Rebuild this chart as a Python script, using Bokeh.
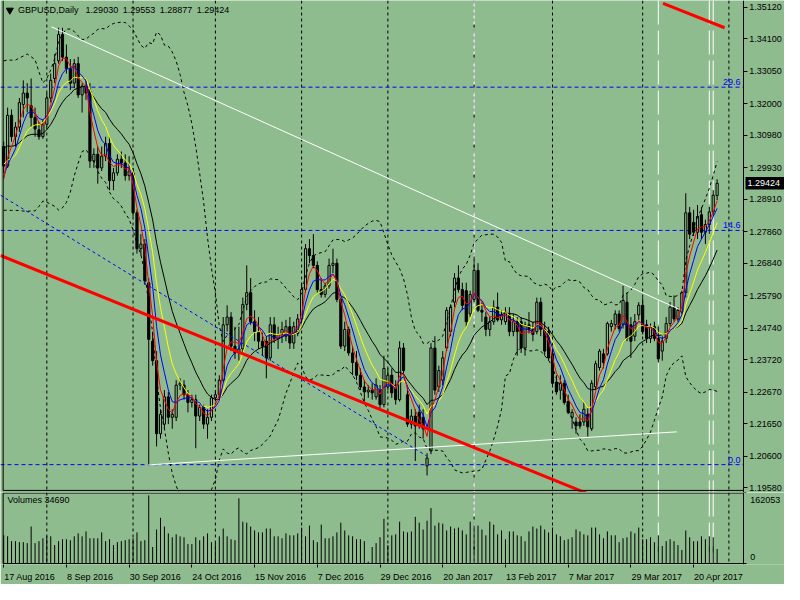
import numpy as np
from bokeh.plotting import figure
from bokeh.models import Range1d, FixedTicker, PrintfTickFormatter, Span, ColumnDataSource
from bokeh.layouts import column
from bokeh.embed import file_html
from bokeh.resources import INLINE
from bokeh.core.properties import value

BG = "#8FBC8F"
FONT = "Liberation Sans"

# ---------------- data ----------------
opens = [
 1.3061,1.2998,1.3162,1.3093,1.3124,1.3197,1.3234,1.3193,1.3155,1.3115,
 1.3093,1.3133,1.3218,1.3281,1.3338,1.3423,1.3350,1.3313,1.3266,1.3329,
 1.3228,1.3256,1.3240,1.3014,1.3036,1.2992,1.3030,1.3071,1.2951,1.2976,
 1.3020,1.3008,1.2967,1.2976,1.2847,1.2731,1.2746,1.2621,1.2432,1.2369,
 1.2133,1.2164,1.2252,1.2186,1.2186,1.2290,1.2290,1.2259,1.2234,1.2243,
 1.2190,1.2218,1.2164,1.2186,1.2249,1.2259,1.2306,1.2485,1.2510,1.2416,
 1.2394,1.2407,1.2551,1.2589,1.2495,1.2463,1.2432,1.2432,1.2378,1.2485,
 1.2441,1.2454,1.2448,1.2479,1.2426,1.2457,1.2504,1.2599,1.2731,1.2709,
 1.2677,1.2599,1.2583,1.2611,1.2677,1.2684,1.2567,1.2416,1.2470,1.2394,
 1.2363,1.2322,1.2284,1.2268,1.2274,1.2252,1.2274,1.2227,1.2284,1.2322,
 1.2290,1.2243,1.2410,1.2259,1.2164,1.2190,1.2202,1.2186,1.2029,1.2077,
 1.2410,1.2284,1.2306,1.2410,1.2463,1.2558,1.2636,1.2599,1.2595,1.2520,
 1.2567,1.2661,1.2532,1.2510,1.2470,1.2495,1.2542,1.2501,1.2495,1.2517,
 1.2463,1.2495,1.2495,1.2410,1.2485,1.2470,1.2463,1.2558,1.2470,1.2463,
 1.2391,1.2300,1.2274,1.2296,1.2237,1.2186,1.2171,1.2171,1.2171,1.2196,
 1.2149,1.2284,1.2347,1.2391,1.2391,1.2479,1.2485,1.2520,1.2485,1.2558,
 1.2485,1.2448,1.2517,1.2548,1.2485,1.2441,1.2479,1.2441,1.2400,1.2441,
 1.2489,1.2542,1.2504,1.2526,1.2589,1.2847,1.2816,1.2784,1.2841,1.2784,
 1.2809,1.2850,1.29030]
highs = [
 1.3077,1.3187,1.3181,1.3140,1.3218,1.3275,1.3266,1.3281,1.3187,1.3140,
 1.3149,1.3234,1.3297,1.3360,1.3445,1.3445,1.3391,1.3344,1.3344,1.3351,
 1.3266,1.3281,1.3266,1.3055,1.3061,1.3061,1.3093,1.3093,1.2992,1.3036,
 1.3045,1.3036,1.3030,1.2992,1.2857,1.2778,1.2762,1.2636,1.2463,1.2400,
 1.2212,1.2274,1.2268,1.2212,1.2306,1.2312,1.2306,1.2274,1.2259,1.2259,
 1.2227,1.2227,1.2212,1.2259,1.2274,1.2322,1.2510,1.2548,1.2526,1.2479,
 1.2479,1.2573,1.2677,1.2636,1.2532,1.2510,1.2463,1.2448,1.2510,1.2510,
 1.2479,1.2495,1.2501,1.2510,1.2495,1.2520,1.2621,1.2746,1.2762,1.2778,
 1.2690,1.2636,1.2621,1.2699,1.2731,1.2699,1.2573,1.2495,1.2479,1.2416,
 1.2400,1.2344,1.2306,1.2290,1.2296,1.2312,1.2290,1.2385,1.2344,1.2344,
 1.2306,1.2432,1.2426,1.2290,1.2212,1.2212,1.2227,1.2212,1.2070,1.2426,
 1.2448,1.2353,1.2400,1.2542,1.2551,1.2652,1.2677,1.2621,1.2621,1.2595,
 1.2706,1.2684,1.2558,1.2526,1.2510,1.2564,1.2589,1.2532,1.2542,1.2542,
 1.2520,1.2510,1.2510,1.2495,1.2526,1.2495,1.2573,1.2573,1.2495,1.2479,
 1.2400,1.2322,1.2322,1.2306,1.2259,1.2212,1.2186,1.2196,1.2234,1.2218,
 1.2306,1.2369,1.2407,1.2407,1.2495,1.2501,1.2532,1.2532,1.2611,1.2589,
 1.2510,1.2520,1.2558,1.2573,1.2501,1.2489,1.2495,1.2479,1.2448,1.2510,
 1.2558,1.2580,1.2542,1.2595,1.2910,1.2866,1.2857,1.2872,1.2866,1.2825,
 1.2866,1.2920,1.29553]
lows = [
 1.2976,1.2992,1.3077,1.3061,1.3108,1.3155,1.3171,1.3124,1.3093,1.3083,
 1.3086,1.3124,1.3203,1.3266,1.3329,1.3338,1.3297,1.3244,1.3250,1.3218,
 1.3171,1.3212,1.2992,1.2992,1.2941,1.2982,1.3014,1.2920,1.2920,1.2967,
 1.2992,1.2951,1.2951,1.2835,1.2715,1.2709,1.2614,1.2029,1.2353,1.2092,
 1.2117,1.2149,1.2164,1.2149,1.2174,1.2274,1.2243,1.2202,1.2218,1.2086,
 1.2174,1.2149,1.2117,1.2174,1.2237,1.2243,1.2300,1.2463,1.2400,1.2375,
 1.2369,1.2394,1.2532,1.2485,1.2432,1.2407,1.2385,1.2312,1.2369,1.2426,
 1.2407,1.2426,1.2432,1.2407,1.2407,1.2448,1.2489,1.2589,1.2684,1.2668,
 1.2589,1.2573,1.2573,1.2602,1.2652,1.2558,1.2407,1.2400,1.2385,1.2322,
 1.2306,1.2274,1.2237,1.2249,1.2243,1.2243,1.2212,1.2218,1.2274,1.2249,
 1.2227,1.2237,1.2322,1.2155,1.2149,1.2045,1.2149,1.2117,1.1998,1.2067,
 1.2259,1.2268,1.2290,1.2400,1.2448,1.2542,1.2589,1.2532,1.2479,1.2510,
 1.2558,1.2526,1.2495,1.2448,1.2448,1.2485,1.2495,1.2485,1.2485,1.2448,
 1.2448,1.2385,1.2394,1.2385,1.2457,1.2432,1.2454,1.2448,1.2385,1.2369,
 1.2290,1.2259,1.2243,1.2227,1.2196,1.2149,1.2133,1.2149,1.2158,1.2124,
 1.2142,1.2274,1.2337,1.2344,1.2385,1.2463,1.2470,1.2463,1.2473,1.2432,
 1.2378,1.2432,1.2501,1.2454,1.2426,1.2426,1.2432,1.2363,1.2369,1.2426,
 1.2479,1.2495,1.2495,1.2520,1.2573,1.2762,1.2772,1.2762,1.2762,1.2746,
 1.2778,1.2835,1.28877]
closes = [
 1.2998,1.3162,1.3093,1.3124,1.3203,1.3234,1.3218,1.3155,1.3118,1.3093,
 1.3133,1.3218,1.3275,1.3329,1.3423,1.3350,1.3313,1.3266,1.3329,1.3228,
 1.3256,1.3234,1.3014,1.3036,1.2992,1.3030,1.3071,1.2951,1.2976,1.3020,
 1.3008,1.2967,1.2982,1.2847,1.2731,1.2746,1.2627,1.2438,1.2369,1.2133,
 1.2196,1.2252,1.2186,1.2196,1.2290,1.2296,1.2259,1.2234,1.2243,1.2190,
 1.2218,1.2164,1.2186,1.2249,1.2259,1.2306,1.2485,1.2510,1.2416,1.2394,
 1.2407,1.2551,1.2589,1.2495,1.2463,1.2432,1.2416,1.2378,1.2485,1.2441,
 1.2454,1.2470,1.2479,1.2426,1.2479,1.2504,1.2599,1.2731,1.2709,1.2677,
 1.2599,1.2583,1.2611,1.2677,1.2684,1.2567,1.2416,1.2470,1.2394,1.2363,
 1.2322,1.2284,1.2268,1.2274,1.2265,1.2290,1.2227,1.2344,1.2322,1.2265,
 1.2243,1.2410,1.2337,1.2164,1.2190,1.2158,1.2164,1.2149,1.2054,1.2410,
 1.2274,1.2337,1.2378,1.2532,1.2542,1.2636,1.2599,1.2548,1.2495,1.2583,
 1.2661,1.2532,1.2526,1.2470,1.2495,1.2542,1.2501,1.2517,1.2526,1.2463,
 1.2495,1.2463,1.2410,1.2485,1.2470,1.2454,1.2558,1.2470,1.2400,1.2378,
 1.2296,1.2268,1.2296,1.2234,1.2202,1.2202,1.2158,1.2158,1.2212,1.2155,
 1.2296,1.2359,1.2400,1.2363,1.2489,1.2489,1.2520,1.2473,1.2564,1.2441,
 1.2432,1.2495,1.2548,1.2463,1.2441,1.2479,1.2441,1.2375,1.2432,1.2489,
 1.2542,1.2504,1.2532,1.2589,1.2847,1.2778,1.2784,1.2835,1.2784,1.2809,
 1.2850,1.2904,1.29424]
volumes = [
 67077,64764,53199,53199,50886,50886,48573,87894,48573,53199,
 60138,64764,64764,43947,53199,57825,57825,55512,64764,71703,
 64764,76329,60138,60138,60138,74016,53199,57825,43947,50886,
 53199,55512,57825,60138,74016,53199,55512,162053,39321,80955,
 108711,87894,71703,62451,69390,64764,62451,46260,46260,62451,
 55512,64764,71703,50886,48573,64764,83268,64764,57825,55512,
 154971,99459,97146,87894,78642,74016,74016,83268,83268,64764,
 64764,60138,71703,67077,67077,71703,85581,64764,90207,55512,
 50886,92520,60138,60138,64764,74016,97146,78642,67077,64764,
 57825,57825,53199,4626,39321,48573,62451,106398,43947,67077,
 69390,99459,76329,74016,76329,111024,97146,80955,101772,131841,
 90207,97146,94833,78642,87894,83268,85581,78642,69390,99459,
 90207,90207,80955,67077,99459,92520,69390,78642,57825,76329,
 76329,67077,64764,53199,76329,87894,83268,90207,80955,74016,
 85581,69390,64764,55512,57825,62451,80955,76329,69390,67077,
 85581,85581,69390,60138,76329,67077,67077,50886,60138,62451,
 76329,71703,85581,57825,57825,62451,50886,67077,41634,53199,
 57825,53199,43947,32382,78642,62451,53199,53199,64764,57825,
 64764,62451,34690]
# estimated closes of the 21 sessions before the first bar (indicator warm-up only, not drawn)
prior_closes = [1.3110,1.3200,1.3125,1.3110,1.3120,1.3140,1.3190,1.3160,1.3230,1.3210,
                1.3340,1.3320,1.3115,1.3055,1.3045,1.3010,1.3000,1.2985,1.2935,1.2880,1.2960]

price_ticks = [1.35120,1.34100,1.33050,1.32000,1.30980,1.29930,1.28910,1.27860,
               1.26840,1.25790,1.24740,1.23720,1.22670,1.21650,1.20600,1.19580]
date_labels = ["17 Aug 2016","8 Sep 2016","30 Sep 2016","24 Oct 2016","15 Nov 2016",
               "7 Dec 2016","29 Dec 2016","20 Jan 2017","13 Feb 2017","7 Mar 2017",
               "29 Mar 2017","20 Apr 2017"]
date_bars = [0,16,32,48,64,80,96,112,128,144,160,176]
month_start_bars = [11,33,54,76,98,120,140,163,185]
white_vline_bars = [120,167,180,181]
fib_levels = [1.3253,1.2790,1.2033]
fib_texts = ["29.6","14.6","0.0"]
trend_white1_x = [12.2,172.2];  trend_white1_y = [1.3448,1.2536]
trend_white2_x = [36.7,171.7];  trend_white2_y = [1.2032,1.2139]
trend_red1_x = [-0.83,149.2];   trend_red1_y = [1.2709,1.1938]
trend_red2_x = [168.2,183.9];   trend_red2_y = [1.3524,1.3445]
trend_blue_x = [-0.83,107.9];   trend_blue_y = [1.2904,1.2061]
symbol = "GBPUSD,Daily"

# ---------------- indicators ----------------
n = len(closes)
bars = list(range(n))
full = np.array(prior_closes + closes, dtype=float)
k = len(prior_closes)

def lwma(arr, period):
    w = np.arange(1, period + 1, dtype=float)
    out = np.full(len(arr), np.nan)
    for i in range(period - 1, len(arr)):
        out[i] = np.dot(arr[i - period + 1:i + 1], w) / w.sum()
    return out

def bands(arr, period, dev):
    up = np.full(len(arr), np.nan); lo = np.full(len(arr), np.nan)
    for i in range(period - 1, len(arr)):
        seg = arr[i - period + 1:i + 1]
        m = seg.mean(); s = seg.std()
        up[i] = m + dev * s; lo[i] = m - dev * s
    return up, lo

ma_red = lwma(full, 5)[k:]
ma_blue = lwma(full, 8)[k:]
ma_yellow = lwma(full, 13)[k:]
ma_black = lwma(full, 21)[k:]
bb_up, bb_lo = bands(full, 20, 2.0)
bb_up = bb_up[k:]; bb_lo = bb_lo[k:]

# ---------------- geometry (screen layout) ----------------
W = 784
PXB = 3.92                     # px per bar
X0 = -3.2 / PXB                # bar 0 sits 3.2 px from the left edge
X1 = X0 + W / PXB
XB_RIGHT = X0 + 742.8 / PXB    # right border of the chart panels (price scale starts here)
XB_LEFT = X0 + 2.65 / PXB
x_rng = Range1d(X0, X1)

H_MAIN = 492
PPP = 3094.1                   # px per price unit
P_TOP = 1.35331
P_BOT = P_TOP - H_MAIN / PPP
P_BORDER = P_TOP - 489.9 / PPP

H_VOL = 92
VPP = 2376.5                   # volume units per px
V_BASE_PX = 71.05              # baseline, px from the top of the volume figure
V_TOP = V_BASE_PX * VPP
V_BOT = -(72 - V_BASE_PX) * VPP
V_BORDER = V_TOP - 0.5 * VPP

def xb(px):
    return X0 + px / PXB

def fig(h, yr, bb, xloc):
    f = figure(width=W, height=h, x_range=x_rng, y_range=yr,
               x_axis_location=xloc, y_axis_location="right",
               output_backend="svg", toolbar_location=None,
               min_border_left=0, min_border_right=0, min_border_top=0, min_border_bottom=bb,
               background_fill_color=BG, border_fill_color=BG, outline_line_color=None)
    f.grid.visible = False
    return f

p = fig(H_MAIN, Range1d(P_BOT, P_TOP), 0, None)
v = fig(H_VOL, Range1d(V_BOT, V_TOP), 20, "below")

for f in (p, v):
    for b in month_start_bars:
        f.add_layout(Span(location=b, dimension="height", line_color="black",
                          line_dash="3 3", line_width=1, level="underlay"))
    for b in white_vline_bars:
        f.add_layout(Span(location=b, dimension="height", line_color="white",
                          line_dash="24 6", line_width=1, level="underlay"))

# Fibonacci levels (up to the panel border)
p.segment(x0=[X0] * 3, y0=fib_levels, x1=[XB_RIGHT] * 3, y1=fib_levels,
          line_color="#0000FF", line_dash="4 3", line_width=1)

# candles
fills = ["black" if c < o else BG for o, c in zip(opens, closes)]
src = ColumnDataSource(dict(x=bars, o=opens, h=highs, l=lows, c=closes, f=fills))
p.segment(x0="x", y0="l", x1="x", y1="h", source=src, line_color="black", line_width=1)
p.vbar(x="x", width=0.55, top="o", bottom="c", source=src, fill_color="f",
       line_color="black", line_width=1)

# indicators
p.line(bars, bb_up, line_color="black", line_dash="3 3", line_width=1)
p.line(bars, bb_lo, line_color="black", line_dash="3 3", line_width=1)
p.line(bars, ma_black, line_color="black", line_width=1)
p.line(bars, ma_yellow, line_color="#FFFF00", line_width=1)
p.line(bars, ma_blue, line_color="#0000FF", line_width=1)
p.line(bars, ma_red, line_color="#FF0000", line_width=1)

# drawn objects
p.line(trend_white1_x, trend_white1_y, line_color="white", line_width=1)
p.line(trend_white2_x, trend_white2_y, line_color="white", line_width=1)
p.line(trend_blue_x, trend_blue_y, line_color="#0000FF", line_dash="3 3", line_width=1)
p.line(trend_red1_x, trend_red1_y, line_color="#FF0000", line_width=3)
p.line(trend_red2_x, trend_red2_y, line_color="#FF0000", line_width=3)

# panel borders (left and bottom; the right one is the price scale line)
p.segment(x0=[XB_LEFT, XB_LEFT], y0=[P_BORDER, P_BORDER], x1=[XB_LEFT, XB_RIGHT],
          y1=[P_TOP, P_BORDER], line_color="black", line_width=1)
v.segment(x0=[XB_LEFT, XB_LEFT, XB_LEFT], y0=[0, V_BORDER, 0],
          x1=[XB_LEFT, XB_RIGHT, XB_RIGHT + 0.5], y1=[V_BORDER, V_BORDER, 0],
          line_color="black", line_width=1)

# texts
p.text(x=[xb(740)] * 3, y=[lv + 2.0 / PPP for lv in fib_levels], text=fib_texts,
       text_align="right", text_baseline="bottom", text_color="#0000FF",
       text_font=value(FONT), text_font_size=value("9px"))
title = f"{symbol}\u2002 {opens[-1]:.5f}\u2002{highs[-1]:.5f}\u2002{lows[-1]:.5f}\u2002{closes[-1]:.5f}"
p.text(x=[xb(17.6)], y=[P_TOP - 9.7 / PPP], text=[title], text_align="left",
       text_baseline="middle", text_color="black",
       text_font=value(FONT), text_font_size=value("9px"))
p.scatter(x=[xb(9.3)], y=[P_TOP - 9.7 / PPP], marker="inverted_triangle", size=7,
          fill_color="black", line_color="black")
# current price box on the price scale
half = 6.3 / PPP
p.quad(left=[xb(745)], right=[X1], bottom=[closes[-1] - half], top=[closes[-1] + half],
       fill_color="black", line_color=None)
p.text(x=[xb(747)], y=[closes[-1]], text=[f"{closes[-1]:.5f}"], text_align="left",
       text_baseline="middle", text_color="white",
       text_font=value(FONT), text_font_size=value("9px"))

# price axis
ya = p.yaxis[0]
ya.fixed_location = XB_RIGHT
ya.ticker = FixedTicker(ticks=price_ticks)
ya.formatter = PrintfTickFormatter(format="%.5f")
ya.major_tick_out = 4; ya.major_tick_in = 0
ya.minor_tick_out = 0; ya.minor_tick_in = 0
ya.major_label_standoff = 2
ya.axis_line_color = "black"
ya.major_label_text_font = FONT
ya.major_label_text_font_size = "9px"
ya.major_label_text_color = "black"

# volume panel
v.segment(x0=bars, y0=[0] * n, x1=bars, y1=volumes, line_color="black", line_width=1)
v.text(x=[xb(6.9)], y=[(V_BASE_PX - 7.6) * VPP], text=[f"Volumes {volumes[-1]}"],
       text_align="left", text_baseline="middle", text_color="black",
       text_font=value(FONT), text_font_size=value("9px"))
vmax = max(volumes)
vpos0 = round((V_BASE_PX - 64.7) * VPP, 1)
vpos1 = round((V_BASE_PX - 7.6) * VPP, 1)
vy = v.yaxis[0]
vy.fixed_location = XB_RIGHT
vy.ticker = FixedTicker(ticks=[vpos0, vpos1], minor_ticks=[0, round(V_BORDER, 1)])
vy.major_label_overrides = {vpos0: "0", vpos1: str(vmax)}
vy.major_tick_out = 0; vy.major_tick_in = 0
vy.minor_tick_out = 3; vy.minor_tick_in = 0
vy.major_label_standoff = 4
vy.axis_line_color = "black"
vy.major_label_text_font = FONT
vy.major_label_text_font_size = "9px"
vy.major_label_text_color = "black"

# date axis (labels left-aligned at their bar)
CW = {" ": 0.278, ".": 0.278}
for ch in "0123456789":
    CW[ch] = 0.556
CW.update({"A": .667, "u": .556, "g": .556, "S": .667, "e": .556, "p": .556, "O": .778,
           "c": .5, "t": .278, "N": .722, "o": .556, "v": .5, "D": .722, "J": .5,
           "a": .556, "n": .556, "F": .611, "b": .556, "M": .833, "r": .333, "l": .222})
centers = []
for b, t in zip(date_bars, date_labels):
    wpx = sum(CW.get(ch, 0.556) for ch in t) * 9.0
    centers.append(round(b + (wpx / 2.0 + 0.5) / PXB, 3))
xa = v.xaxis[0]
xa.ticker = FixedTicker(ticks=centers, minor_ticks=date_bars)
xa.major_label_overrides = {c: t for c, t in zip(centers, date_labels)}
xa.major_tick_out = 0; xa.major_tick_in = 0
xa.minor_tick_out = 3; xa.minor_tick_in = 0
xa.major_label_standoff = 4
xa.axis_line_color = None
xa.major_label_text_font = FONT
xa.major_label_text_font_size = "9px"
xa.major_label_text_color = "black"

layout = column(p, v, spacing=0)
open("out.html", "w").write(file_html(layout, INLINE))
